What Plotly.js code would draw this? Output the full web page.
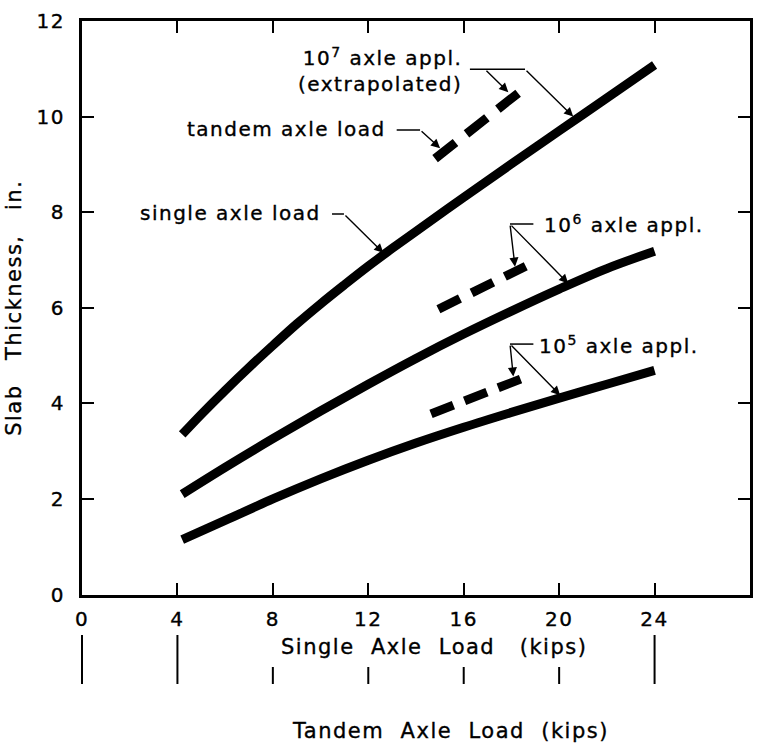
<!DOCTYPE html>
<html><head><meta charset="utf-8">
<script src="https://cdn.plot.ly/plotly-3.0.1.min.js"></script>
<style>
html,body{margin:0;padding:0;background:#fff;}
text{letter-spacing:1.5px;stroke:#000;stroke-width:0.35px;}
</style></head><body>
<div id="chart" style="width:763px;height:747px;"></div>
<script>
// Single axle load curves (x: single axle load, kips; y: slab thickness, in.)
const xSingle7 = [4.2, 5, 6, 7, 8, 9, 10, 11, 12, 13, 14, 16, 18, 20, 22, 24];
const ySingle7 = [3.35, 3.77, 4.27, 4.75, 5.21, 5.66, 6.08, 6.48, 6.87, 7.24, 7.60, 8.31, 9.01, 9.70, 10.39, 11.08];
const xSingle6 = [4.2, 6, 8, 10, 12, 14, 16, 18, 20, 22, 24];
const ySingle6 = [2.10, 2.66, 3.26, 3.84, 4.40, 4.94, 5.45, 5.93, 6.39, 6.82, 7.18];
const xSingle5 = [4.2, 6, 8, 10, 12, 14, 16, 18, 20, 22, 24];
const ySingle5 = [1.15, 1.55, 2.00, 2.42, 2.81, 3.17, 3.50, 3.81, 4.11, 4.40, 4.69];
// Tandem axle load lines (x: tandem axle load, kips)
const xTandem7 = [29.6, 36.56];
const yTandem7 = [9.12, 10.49];
const xTandem6 = [29.88, 37.2];
const yTandem6 = [5.97, 6.87];
const xTandem5 = [29.26, 36.8];
const yTandem5 = [3.78, 4.51];
// Axis ticks
const singleTicks = [0, 4, 8, 12, 16, 20, 24, 28];
const tandemTicks = [0, 8, 16, 24, 32, 40, 48];
const tandemLongTicks = [0, 8, 48];
const tandemShortTicks = [16, 24, 32, 40];
const thicknessTicks = [0, 2, 4, 6, 8, 10, 12];
const tandemRange = [0, 56];

const FONT = 'DejaVu Sans, Arial, sans-serif';
const solid = (x, y) => ({x, y, type:'scatter', mode:'lines', xaxis:'x', yaxis:'y',
  line:{color:'#000', width:9, shape:'spline', smoothing:1}, hoverinfo:'skip'});
const dashed = (x, y, dash) => ({x, y, type:'scatter', mode:'lines', xaxis:'x3', yaxis:'y',
  line:{color:'#000', width:9, dash}, hoverinfo:'skip'});

const traces = [
  solid(xSingle7, ySingle7),
  solid(xSingle6, ySingle6),
  solid(xSingle5, ySingle5),
  dashed(xTandem7, yTandem7, '26px,14px'),
  dashed(xTandem6, yTandem6, '24px,13px'),
  dashed(xTandem5, yTandem5, '24px,12px')
];

const arrow = (x0, y0, x1, y1) => ({x:x1, y:y1, ax:x0, ay:y0, xref:'x', yref:'y', axref:'x', ayref:'y',
  text:'', showarrow:true, arrowhead:2, arrowsize:1.3, arrowwidth:1.4, arrowcolor:'#000', standoff:0});
const seg = (x0, y0, x1, y1) => ({type:'line', xref:'x', yref:'y', x0, y0, x1, y1, line:{color:'#000', width:1.5}});
const label = (x, y, text, xanchor) => ({x, y, xref:'x', yref:'y', text, xanchor, yanchor:'middle', align:'right',
  showarrow:false, font:{family:FONT, size:20, color:'#000'}});
const titleFont = {family:FONT, size:21, color:'#000'};
const axisTitle = (x, y, text) => ({x, y, xref:'paper', yref:'paper', text, xanchor:'center', yanchor:'middle',
  showarrow:false, font:titleFont});

const annotations = [
  label(16.0, 10.97, '10<sup>7</sup> axle appl.<br>(extrapolated)', 'right'),
  label(12.84, 9.75, 'tandem axle load', 'right'),
  label(10.11, 7.98, 'single axle load', 'right'),
  label(19.28, 7.75, '10<sup>6</sup> axle appl.', 'left'),
  label(19.08, 5.22, '10<sup>5</sup> axle appl.', 'left'),
  arrow(18.57, 10.99, 20.59, 10.0),
  arrow(16.89, 10.99, 17.87, 10.51),
  arrow(14.17, 9.72, 15.01, 9.34),
  arrow(10.98, 7.96, 12.63, 7.15),
  arrow(17.94, 7.75, 18.15, 6.86),
  arrow(17.94, 7.75, 20.38, 6.51),
  arrow(17.94, 5.24, 18.08, 4.56),
  arrow(17.94, 5.24, 20.04, 4.17),
  axisTitle(0.527, 0.117, 'Single\u00a0\u00a0Axle\u00a0\u00a0Load\u00a0\u00a0\u00a0(kips)'),
  axisTitle(0.552, -0.0014, 'Tandem\u00a0\u00a0Axle\u00a0\u00a0Load\u00a0\u00a0(kips)')
];

const tandemTick = (v, top) => ({type:'line', xref:'paper', yref:'paper',
  x0:(v - tandemRange[0]) / (tandemRange[1] - tandemRange[0]),
  x1:(v - tandemRange[0]) / (tandemRange[1] - tandemRange[0]),
  y0:0.0649, y1:top, line:{color:'#000', width:2}});
const shapes = [
  seg(16.26, 10.99, 18.57, 10.99),
  seg(13.19, 9.72, 14.17, 9.72),
  seg(10.48, 7.96, 10.98, 7.96),
  seg(17.94, 7.75, 18.92, 7.75),
  seg(17.94, 5.24, 18.92, 5.24)
].concat(tandemLongTicks.map(v => tandemTick(v, 0.134)))
 .concat(tandemShortTicks.map(v => tandemTick(v, 0.0889)));

const tickFont = {family:FONT, size:20, color:'#000'};
const layout = {
  width:763, height:747,
  margin:{l:82, r:13, t:21, b:17},
  paper_bgcolor:'#fff', plot_bgcolor:'rgba(0,0,0,0)',
  showlegend:false, hovermode:false,
  font:{family:FONT, color:'#000'},
  xaxis:{range:[0,28], tickvals:singleTicks, ticktext:singleTicks.map(String),
    showgrid:false, zeroline:false, showline:true, linewidth:3, linecolor:'#000', mirror:'ticks',
    ticks:'inside', ticklen:12, tickwidth:2, tickcolor:'#000', tickfont:tickFont, ticklabelstandoff:4,
    anchor:'y'},
  yaxis:{range:[0,12], domain:[0.1911,1], tickvals:thicknessTicks, ticktext:thicknessTicks.map(String),
    showgrid:false, zeroline:false, showline:true, linewidth:3, linecolor:'#000', mirror:'ticks',
    ticks:'inside', ticklen:12, tickwidth:2, tickcolor:'#000', tickfont:tickFont, ticklabelstandoff:10,
    anchor:'x',
    title:{text:'Slab\u00a0\u00a0\u00a0Thickness,\u00a0\u00a0\u00a0in.', font:titleFont, standoff:10}},
  // Tandem scale: its own strip below the plot, ticks pointing up
  xaxis2:{range:tandemRange, tickvals:tandemTicks, ticktext:tandemTicks.map(String),
    anchor:'y2', side:'bottom', showgrid:false, zeroline:false, showline:false,
    ticks:'inside', ticklen:17, tickwidth:2, tickcolor:'#000', tickfont:tickFont, ticklabelstandoff:3},
  yaxis2:{domain:[0.0649, 0.0889], range:[0,1], anchor:'x2', visible:false, showgrid:false, zeroline:false},
  // Tandem scale used by the dashed tandem-load lines
  xaxis3:{range:tandemRange, overlaying:'x', anchor:'y', visible:false, showgrid:false, zeroline:false},
  annotations, shapes
};

Plotly.newPlot('chart', traces, layout, {staticPlot:true, displayModeBar:false});
</script></body></html>
